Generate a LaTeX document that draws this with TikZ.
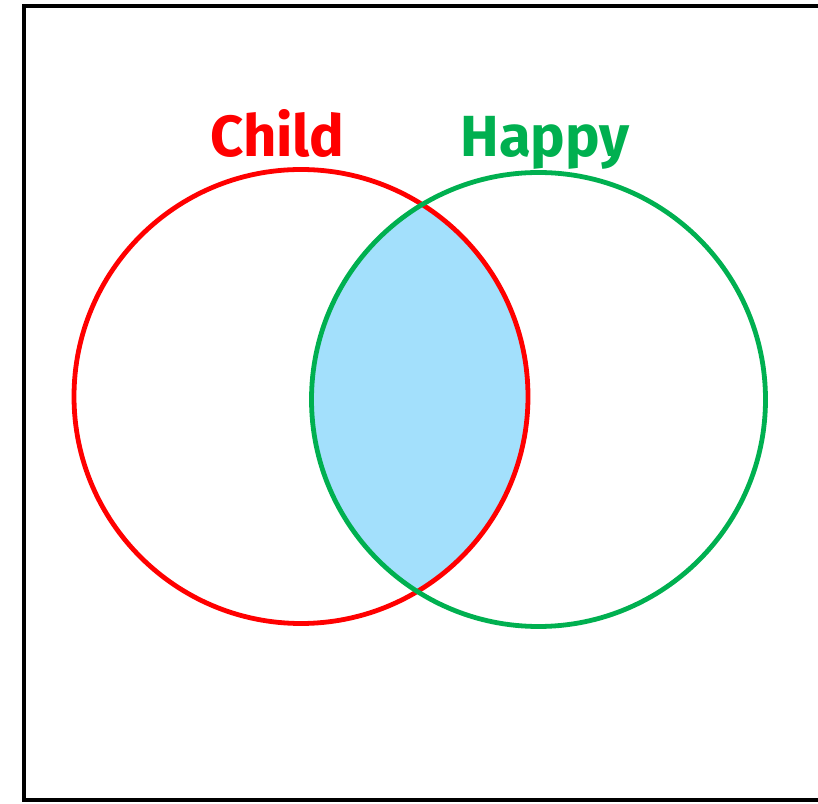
\documentclass[tikz,border=0pt]{standalone}
\usepackage{fontspec}
\setmainfont{Fira Sans}
\definecolor{vred}{RGB}{255,0,0}
\definecolor{vgreen}{RGB}{0,176,80}
\definecolor{vblue}{RGB}{163,224,252}
\begin{document}
\begin{tikzpicture}[x=1pt,y=1pt,
  setcircle/.style={line width=4.8pt},
  setlabel/.style={font=\fontsize{58}{60}\selectfont\bfseries, anchor=base, inner sep=0pt}]
\useasboundingbox (0,0) rectangle (818,803);
\begin{scope}
\clip (0,0) rectangle (818,803);
\draw[line width=4.8pt] (24,3) rectangle (840,797);
\end{scope}
\coordinate (cc) at (301,406.5);
\coordinate (hc) at (538.5,403.5);
\begin{scope}
\clip (cc) circle (227);
\fill[vblue] (hc) circle (227);
\end{scope}
\draw[setcircle, vred] (cc) circle (227);
\draw[setcircle, vgreen] (hc) circle (227);
\node[setlabel, text=vred] (child) at (277.5,646) {Child};
\node[setlabel, text=vgreen] (happy) at (545,646) {Happy};
\end{tikzpicture}
\end{document}
